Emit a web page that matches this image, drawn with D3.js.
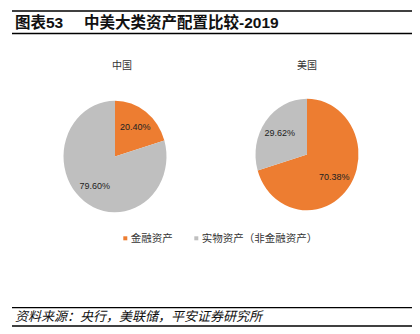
<!DOCTYPE html>
<html><head><meta charset="utf-8">
<script src="https://cdn.jsdelivr.net/npm/d3@7"></script>
<style>body{margin:0;background:#fff}svg{display:block}</style>
</head><body>
<script>
const title = "中美大类资产配置比较-2019";
const figNo = "图表53";
const source = "资料来源：央行，美联储，平安证券研究所";
const categories = ["金融资产", "实物资产（非金融资产）"];
const countries = ["中国", "美国"];
const chinaValues = [20.40, 79.60];
const usValues = [70.38, 29.62];
const colors = ["#ED7D31", "#BFBFBF"];

const W = 420, H = 334;
const svg = d3.select("body").append("svg").attr("width", W).attr("height", H);
const font = "'Liberation Sans','Noto Sans CJK SC',sans-serif";

// header
svg.append("line").attr("x1",12).attr("x2",412).attr("y1",11).attr("y2",11).attr("stroke","#000").attr("stroke-width",1.6);
svg.append("line").attr("x1",12).attr("x2",412).attr("y1",33.5).attr("y2",33.5).attr("stroke","#000").attr("stroke-width",1.6);
svg.append("text").attr("x",15).attr("y",28).attr("font-family",font).attr("font-weight","bold").attr("font-size",15.5).attr("fill","#111").text(figNo);
svg.append("text").attr("x",84).attr("y",28).attr("font-family",font).attr("font-weight","bold").attr("font-size",15.5).attr("fill","#111").text(title);

// footer
svg.append("line").attr("x1",12).attr("x2",412).attr("y1",307.7).attr("y2",307.7).attr("stroke","#000").attr("stroke-width",1.3);
svg.append("line").attr("x1",12).attr("x2",412).attr("y1",326).attr("y2",326).attr("stroke","#000").attr("stroke-width",1.3);
svg.append("text").attr("x",15).attr("y",321).attr("font-family",font).attr("font-style","italic").attr("font-size",13).attr("fill","#111").text(source);

const rx = 51.5, ry = 55.8;
const pie = d3.pie().sort(null).value(d => d);
const arc = d3.arc().innerRadius(0).outerRadius(rx);
const labelArc = d3.arc().innerRadius(rx*0.66).outerRadius(rx*0.66);

const panels = [
  {name: countries[0], values: chinaValues, cx: 115, cy: 156.5, tx: 122},
  {name: countries[1], values: usValues, cx: 307, cy: 154.5, tx: 307}
];
panels.forEach(p => {
  svg.append("text").attr("x",p.tx).attr("y",69).attr("text-anchor","middle")
    .attr("font-family",font).attr("font-size",10).attr("fill","#333").text(p.name);
  const g = svg.append("g").attr("transform",`translate(${p.cx},${p.cy}) scale(1,${ry/rx})`);
  const arcs = pie(p.values);
  g.selectAll("path").data(arcs).join("path").attr("d",arc).attr("fill",(d,i)=>colors[i]);
  const lg = svg.append("g").attr("transform",`translate(${p.cx},${p.cy})`);
  lg.selectAll("text").data(arcs).join("text")
    .attr("x",d=>labelArc.centroid(d)[0])
    .attr("y",d=>labelArc.centroid(d)[1]*ry/rx)
    .attr("dy","0.35em").attr("text-anchor","middle")
    .attr("font-family",font).attr("font-size",9).attr("fill","#222")
    .text(d=>d.data.toFixed(2)+"%");
});

// legend
const legX = [123.3, 194.3];
categories.forEach((c,i)=>{
  svg.append("rect").attr("x",legX[i]).attr("y",236.3).attr("width",4).attr("height",4).attr("fill",colors[i]);
  svg.append("text").attr("x",legX[i]+7.5).attr("y",238.5).attr("dy","0.35em")
    .attr("font-family",font).attr("font-size",10.5).attr("fill","#333").text(c);
});
</script>
</body></html>
